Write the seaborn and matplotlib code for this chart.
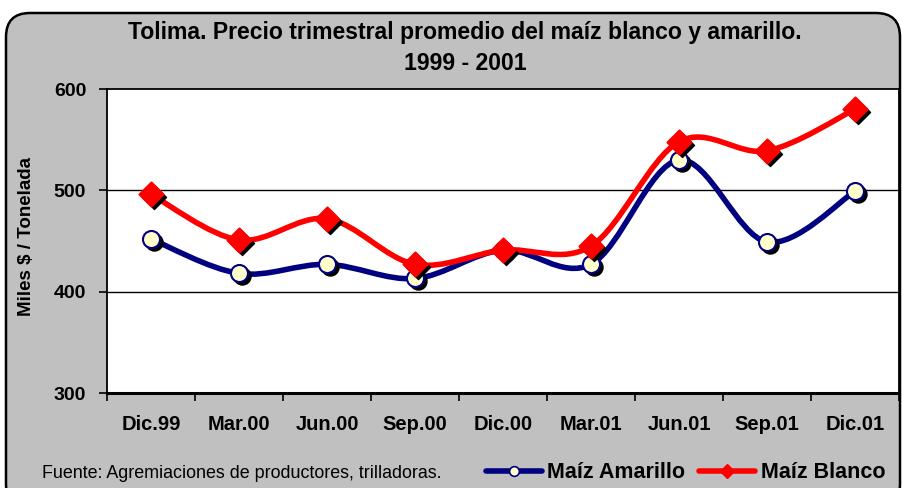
import numpy as np
import matplotlib
matplotlib.use("Agg")
import matplotlib.pyplot as plt
import seaborn as sns
import pandas as pd
from matplotlib.path import Path
from matplotlib.patches import PathPatch, FancyBboxPatch
from matplotlib.lines import Line2D
from matplotlib.transforms import IdentityTransform, ScaledTranslation

# ---- data ----
categories = ["Dic.99", "Mar.00", "Jun.00", "Sep.00", "Dic.00",
              "Mar.01", "Jun.01", "Sep.01", "Dic.01"]
amarillo = [452, 418, 427, 413, 441, 427, 530, 449, 499]
blanco = [496, 451, 472, 427, 441, 445, 548, 539, 580]
y_ticks = [300, 400, 500, 600]
series_names = ["Maíz Amarillo", "Maíz Blanco"]
title_lines = ["Tolima. Precio trimestral promedio del maíz blanco y amarillo.",
               "1999 - 2001"]
y_label = "Miles $ / Tonelada"
source_text = "Fuente: Agremiaciones de productores, trilladoras."

sns.set_theme(style="white")
plt.rcParams["font.family"] = ["Liberation Sans", "DejaVu Sans"]
plt.rcParams["text.color"] = "black"
plt.rcParams["axes.labelcolor"] = "black"
plt.rcParams["xtick.color"] = "black"
plt.rcParams["ytick.color"] = "black"

W, H, DPI = 903, 488, 100
fig = plt.figure(figsize=(W / DPI, H / DPI), dpi=DPI)
fig.patch.set_facecolor("white")

# gray rounded background in pixel coordinates
bg = FancyBboxPatch((6, -20), 894, 20 + (H - 13), boxstyle="round,pad=0,rounding_size=24",
                    transform=IdentityTransform(), facecolor="#C0C0C0",
                    edgecolor="black", linewidth=1.8, zorder=-10)
fig.patches.append(bg)

left, right, top, bottom = 107, 899, 89, 393
ax = fig.add_axes([left / W, (H - bottom) / H, (right - left) / W, (bottom - top) / H])
ax.set_zorder(1)
ax.set_facecolor("white")

x = np.arange(len(categories))
df = pd.DataFrame({"x": np.concatenate([x, x]),
                   "precio": amarillo + blanco,
                   "serie": [series_names[0]] * len(x) + [series_names[1]] * len(x)})

def smooth_path(xs, ys):
    pts = np.column_stack([xs, ys]).astype(float)
    n = len(pts)
    verts = [pts[0]]
    codes = [Path.MOVETO]
    for i in range(n - 1):
        p0 = pts[max(i - 1, 0)]
        p1 = pts[i]
        p2 = pts[i + 1]
        p3 = pts[min(i + 2, n - 1)]
        c1 = p1 + (p2 - p0) / 6.0
        c2 = p2 - (p3 - p1) / 6.0
        verts += [c1, c2, p2]
        codes += [Path.CURVE4] * 3
    return Path(verts, codes)

navy = "#000080"
red = "#FF0000"
cream = "#FFFFCC"
shadow = ScaledTranslation(3 / 100, -3 / 100, fig.dpi_scale_trans)

specs = [
    (series_names[0], amarillo, navy, "o", cream, navy, 150, 3, 5),
    (series_names[1], blanco, red, "D", red, red, 150, 4, 6),
]
for name, vals, col, mk, fc, ec, sz, zl, zm in specs:
    ax.add_patch(PathPatch(smooth_path(x, vals), facecolor="none", edgecolor=col,
                           linewidth=4, capstyle="round", joinstyle="round", zorder=zl))
    sub = df[df["serie"] == name]
    # shadow
    n_before = len(ax.collections)
    sns.scatterplot(data=sub, x="x", y="precio", ax=ax, marker=mk, s=sz,
                    color="black", edgecolor="black", linewidth=1, legend=False, zorder=zm - 0.5)
    coll = ax.collections[n_before]
    coll.set_offset_transform(ax.transData + shadow)
    sns.scatterplot(data=sub, x="x", y="precio", ax=ax, marker=mk, s=sz,
                    color=fc, edgecolor=ec, linewidth=1.5, legend=False, zorder=zm)

ax.set_xlim(-0.5, len(categories) - 0.5)
ax.set_ylim(300, 600)
ax.set_yticks(y_ticks)
ax.set_yticklabels([str(v) for v in y_ticks], fontsize=14, fontweight="bold")
ax.set_xticks(x)
ax.set_xticklabels(categories, fontsize=14.5, fontweight="bold")
ax.set_xticks(np.arange(-0.5, len(categories)), minor=True)
ax.tick_params(axis="x", which="major", length=0, pad=16, colors="black")
ax.tick_params(axis="x", which="minor", length=6, width=1.2, direction="out", color="black",
               bottom=True)
ax.tick_params(axis="y", which="major", length=6, width=1.2, direction="out", pad=9,
               colors="black", left=True)
for yv in y_ticks[1:-1]:
    ax.axhline(yv, color="black", linewidth=1, zorder=1)
for s in ax.spines.values():
    s.set_visible(True)
    s.set_color("black")
    s.set_linewidth(1.3)
ax.spines["bottom"].set_linewidth(2.2)
ax.set_xlabel("")
ax.set_ylabel("")

fig.text(27 / W, 1 - 237 / H, y_label, rotation=90, ha="center", va="center",
         fontsize=13.5, fontweight="bold")
fig.text(465 / W, 1 - 32 / H, title_lines[0], ha="center", va="center",
         fontsize=16.6, fontweight="bold")
fig.text(465 / W, 1 - 64 / H, title_lines[1], ha="center", va="center",
         fontsize=16.6, fontweight="bold")
fig.text(42 / W, 1 - 473 / H, source_text, ha="left", va="center", fontsize=12.9)

handles = [
    Line2D([], [], color=navy, lw=4, marker="o", markersize=7, markerfacecolor=cream,
           markeredgecolor=navy, markeredgewidth=1.2),
    Line2D([], [], color=red, lw=4, marker="D", markersize=7, markerfacecolor=red,
           markeredgecolor=red),
]
fig.legend(handles, series_names, loc="center left", bbox_to_anchor=(486 / W, 1 - 473 / H),
           ncol=2, frameon=False, handlelength=2.6, handletextpad=0.25, columnspacing=0.65,
           borderpad=0, borderaxespad=0, prop={"size": 15.5, "weight": "bold"})

fig.savefig("out.png", dpi=DPI, facecolor=fig.get_facecolor())
